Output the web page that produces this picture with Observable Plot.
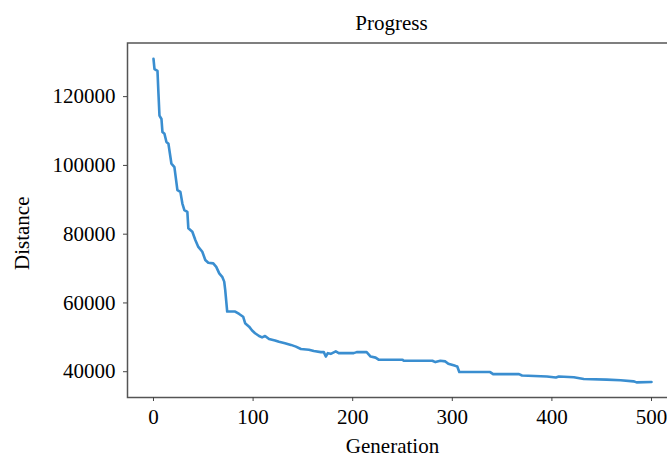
<!DOCTYPE html>
<html>
<head>
<meta charset="utf-8">
<script src="https://cdn.jsdelivr.net/npm/d3@7"></script>
<script src="https://cdn.jsdelivr.net/npm/@observablehq/plot@0.6"></script>
<style>
  html, body { margin: 0; padding: 0; background: #fff; }
  #wrap { width: 667px; height: 457px; overflow: hidden; position: relative; }
  #wrap svg { max-width: none !important; display: block; }
</style>
</head>
<body>
<div id="wrap"></div>
<script>
const titleText = "Progress";
const xLabel = "Generation";
const yLabel = "Distance";
const xTicks = [0, 100, 200, 300, 400, 500];
const yTicks = [40000, 60000, 80000, 100000, 120000];

const generations = [0, 1, 4, 5, 6, 8, 9, 11, 13, 15, 18, 21, 24, 27, 29, 31, 34, 35, 39, 42, 45, 49, 52, 55, 60, 63, 66, 69, 71, 72, 74, 82, 86, 90, 92, 96, 99, 102, 106, 109, 112, 116, 122, 126, 132, 138, 143, 148, 156, 161, 168, 171, 173, 175, 178, 183, 186, 201, 204, 214, 218, 223, 226, 250, 251, 280, 283, 288, 293, 296, 303, 305, 307, 338, 341, 367, 370, 395, 404, 407, 422, 432, 455, 469, 482, 485, 500];
const distances = [131000, 128000, 127500, 120800, 114500, 113500, 109700, 109200, 106800, 106300, 100500, 99500, 92800, 92300, 88900, 87000, 86500, 81700, 80700, 78300, 76300, 74900, 72500, 71700, 71500, 70500, 68600, 67600, 66200, 63800, 57500, 57500, 56800, 56000, 54100, 53100, 52000, 51200, 50400, 50000, 50400, 49500, 49100, 48700, 48300, 47800, 47300, 46600, 46400, 46000, 45700, 45700, 44400, 45400, 45200, 45900, 45400, 45400, 45700, 45700, 44400, 44100, 43500, 43500, 43200, 43200, 42800, 43200, 43000, 42300, 41700, 41500, 39900, 39900, 39300, 39300, 38900, 38600, 38300, 38600, 38400, 37900, 37700, 37500, 37200, 36900, 37000];

const data = generations.map((g, i) => ({g, d: distances[i]}));

const chart = Plot.plot({
  width: 680,
  height: 457,
  marginLeft: 127,
  marginRight: 4,
  marginTop: 42.5,
  marginBottom: 60,
  style: {fontFamily: "'Liberation Serif', 'Times New Roman', serif", fontSize: "21px", color: "#000", background: "#fff", overflow: "visible", maxWidth: "none"},
  x: {domain: [-26.1, 525.1], ticks: xTicks, label: null, tickSize: 4, tickPadding: 8},
  y: {domain: [32500, 135600], ticks: yTicks, label: null, tickSize: 4, tickPadding: 8, tickFormat: d => String(d)},
  marks: [
    Plot.line(data, {x: "g", y: "d", stroke: "#3a8ed0", strokeWidth: 2.6, strokeLinejoin: "round"}),
    Plot.frame({stroke: "#555", strokeWidth: 1.5}),
    Plot.axisX({ticks: xTicks, tickSize: 4, tickPadding: 8, stroke: "#444", label: null, fill: "#000"}),
    Plot.axisY({ticks: yTicks, tickSize: 4, tickPadding: 8, stroke: "#444", label: null, fill: "#000", tickFormat: d => String(d)}),
    Plot.text([titleText], {text: d => d, frameAnchor: "top", dx: -10.5, dy: -20, lineAnchor: "middle", fill: "#000"}),
    Plot.text([xLabel], {text: d => d, frameAnchor: "bottom", dx: -9.5, dy: 48.5, lineAnchor: "middle", fill: "#000"}),
    Plot.text([yLabel], {text: d => d, frameAnchor: "left", dx: -105, dy: 13, rotate: -90, textAnchor: "middle", lineAnchor: "middle", fill: "#000"})
  ]
});
document.getElementById("wrap").appendChild(chart);
</script>
</body>
</html>
